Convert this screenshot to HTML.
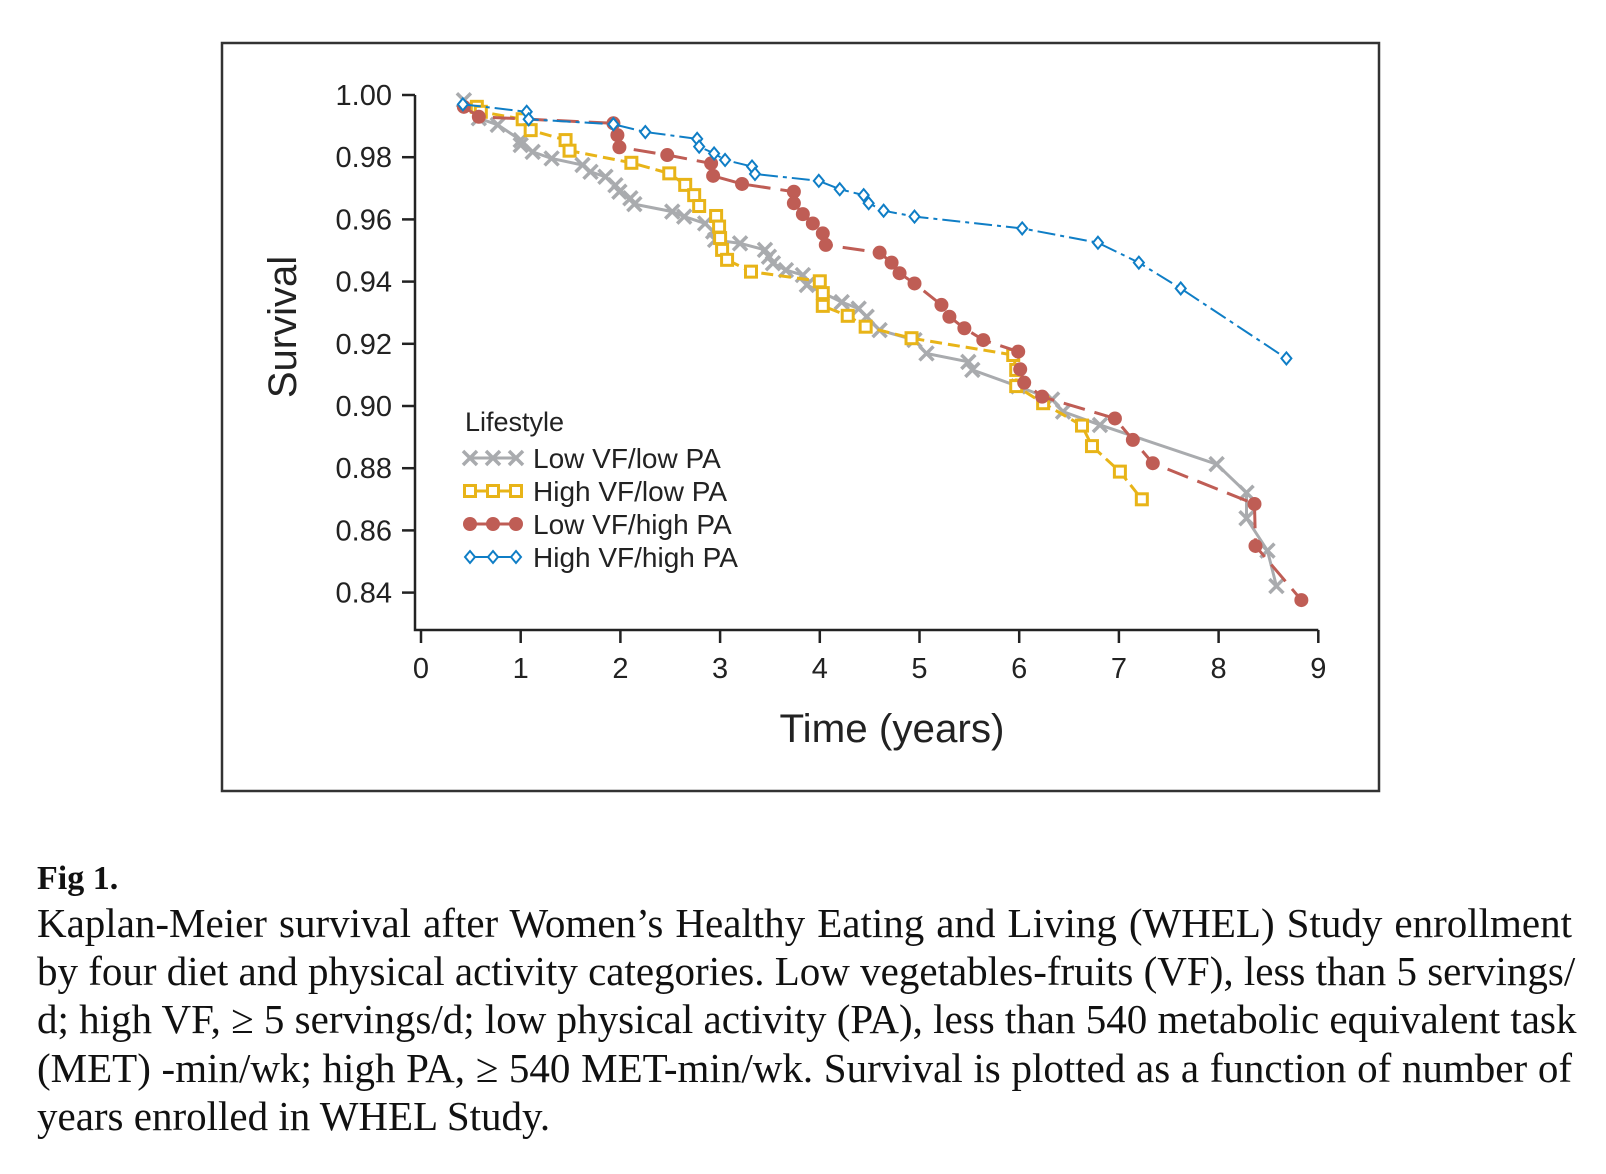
<!DOCTYPE html>
<html><head><meta charset="utf-8">
<style>
html,body{margin:0;padding:0;background:#fff;}
body{width:1606px;height:1174px;position:relative;overflow:hidden;}
#chart{position:absolute;left:0;top:0;}
.cap{position:absolute;left:37px;width:1535px;font-family:"Liberation Serif",serif;font-size:41px;color:#111;white-space:nowrap;}
.j{text-align:justify;text-align-last:justify;}
</style></head>
<body>
<svg id="chart" width="1606" height="800" xmlns="http://www.w3.org/2000/svg">
<rect x="222" y="43" width="1157" height="748" fill="none" stroke="#333" stroke-width="2.5"/>
<g id="axes"></g>
<g id="series"></g>
<g id="legend"></g>
</svg>
<div class="cap" style="top:860px;font-weight:bold;font-size:34px;">Fig 1.</div>
<div class="cap j" style="top:899px;">Kaplan-Meier survival after Women’s Healthy Eating and Living (WHEL) Study enrollment</div>
<div class="cap j" style="top:947px;">by four diet and physical activity categories. Low vegetables-fruits (VF), less than 5 servings/</div>
<div class="cap j" style="top:995px;">d; high VF, ≥ 5 servings/d; low physical activity (PA), less than 540 metabolic equivalent task</div>
<div class="cap j" style="top:1044px;">(MET) -min/wk; high PA, ≥ 540 MET-min/wk. Survival is plotted as a function of number of</div>
<div class="cap" style="top:1092px;">years enrolled in WHEL Study.</div>
<script>
const xTicks=[0,1,2,3,4,5,6,7,8,9];
const yTicks=[1.00,0.98,0.96,0.94,0.92,0.90,0.88,0.86,0.84];
const seriesNames=["Low VF/low PA","High VF/low PA","Low VF/high PA","High VF/high PA"];
const grayT=[0.43,0.58,0.77,1.0,1.0,1.12,1.31,1.62,1.7,1.85,1.95,1.99,2.1,2.14,2.52,2.64,2.85,2.93,2.95,3.2,3.45,3.49,3.53,3.66,3.83,3.87,4.22,4.39,4.47,4.6,4.95,5.07,5.49,5.53,5.99,6.33,6.44,6.81,7.98,8.28,8.28,8.49,8.58];
const grayV=[0.9983,0.9925,0.9904,0.9855,0.9839,0.9817,0.9796,0.9775,0.9753,0.9737,0.971,0.9689,0.9668,0.9649,0.9625,0.9609,0.9587,0.9561,0.9534,0.9523,0.9502,0.948,0.9459,0.9437,0.9421,0.9389,0.9334,0.9313,0.9287,0.9244,0.9212,0.9169,0.9142,0.9116,0.9063,0.9021,0.8982,0.8939,0.8813,0.8721,0.8639,0.8535,0.8421];
const yellowT=[0.56,0.6,1.02,1.1,1.45,1.49,2.11,2.49,2.65,2.74,2.79,2.96,2.99,3.0,3.02,3.07,3.31,4.0,4.03,4.03,4.28,4.46,4.92,5.94,5.97,5.97,6.24,6.63,6.73,7.01,7.23];
const yellowV=[0.9962,0.9946,0.9922,0.9887,0.9855,0.9821,0.9782,0.9748,0.9711,0.9678,0.9643,0.9611,0.9577,0.954,0.9502,0.947,0.9432,0.9401,0.9363,0.9322,0.929,0.9255,0.9218,0.9164,0.9116,0.9064,0.9009,0.8937,0.8871,0.8789,0.87];
const redT=[0.43,0.58,1.93,1.97,1.99,2.47,2.91,2.93,3.22,3.74,3.74,3.83,3.93,4.03,4.06,4.6,4.72,4.8,4.95,5.22,5.3,5.45,5.64,5.99,6.01,6.05,6.23,6.96,7.14,7.34,8.36,8.37,8.83];
const redV=[0.9962,0.993,0.9909,0.9871,0.9832,0.9807,0.978,0.974,0.9714,0.9689,0.9652,0.9617,0.9587,0.9555,0.9518,0.9493,0.9461,0.9427,0.9394,0.9325,0.9287,0.925,0.9212,0.9175,0.9118,0.9075,0.903,0.896,0.8891,0.8816,0.8685,0.855,0.8376];
const blueT=[0.42,1.06,1.08,1.93,2.25,2.77,2.79,2.94,3.05,3.32,3.35,3.99,4.2,4.44,4.49,4.64,4.95,6.03,6.79,7.2,7.62,8.68];
const blueV=[0.997,0.9946,0.9922,0.9906,0.9881,0.9859,0.9834,0.9812,0.9791,0.977,0.9746,0.9724,0.9697,0.9678,0.9652,0.9628,0.9609,0.9571,0.9525,0.9461,0.9378,0.9153];

const NS="http://www.w3.org/2000/svg";
const X0=421, XS=99.7, Y0=95, YS=3110;
function xs(t){return X0+XS*t;}
function ys(v){return Y0+(1-v)*YS;}
function mk(tag,attrs,parent){const e=document.createElementNS(NS,tag);for(const k in attrs)e.setAttribute(k,attrs[k]);parent.appendChild(e);return e;}
const axes=document.getElementById('axes');
const FONT='"Liberation Sans", Arial, sans-serif';
let a=mk('path',{d:`M415,${ys(1)} V630 H${xs(9)}`,fill:'none',stroke:'#222','stroke-width':2.5},axes);


yTicks.forEach(v=>{
  const y=ys(v);
  let l=mk('line',{x1:402,x2:415,y1:y,y2:y,stroke:'#222','stroke-width':2.5},axes);
  
  
  let t=mk('text',{x:392,y:y+10,'text-anchor':'end','font-family':FONT,'font-size':29,fill:'#222'},axes);
  t.textContent=v.toFixed(2);
  
  
});
xTicks.forEach(v=>{
  const x=xs(v);
  let l=mk('line',{x1:x,x2:x,y1:630,y2:643,stroke:'#222','stroke-width':2.5},axes);
  
  
  let t=mk('text',{x:x,y:678,'text-anchor':'middle','font-family':FONT,'font-size':29,fill:'#222'},axes);
  t.textContent=String(v);
  
  
});
let xt=mk('text',{x:892,y:742,'text-anchor':'middle','font-family':FONT,'font-size':40,fill:'#222','textLength':225,'lengthAdjust':'spacingAndGlyphs'},axes);
xt.textContent='Time (years)';


let yt=mk('text',{x:0,y:0,'text-anchor':'middle','font-family':FONT,'font-size':40,fill:'#222',transform:'translate(296,327) rotate(-90)'},axes);
yt.textContent='Survival';



const styles=[
 {c:'#a9abae',dash:'',w:3,m:'x'},
 {c:'#e8b418',dash:'12,6',w:3,m:'sq'},
 {c:'#bf5d55',dash:'22,10',w:3,m:'dot'},
 {c:'#0f7ec6',dash:'18,5,4,5',w:2,m:'dia'}
];
function marker(g,type,x,y,c){
  let e;
  if(type==='x'){e=mk('path',{d:`M${x-7},${y-7}L${x+7},${y+7}M${x-7},${y+7}L${x+7},${y-7}`,stroke:c,'stroke-width':3.5,fill:'none'},g);}
  else if(type==='sq'){e=mk('rect',{x:x-5.5,y:y-5.5,width:11,height:11,fill:'#fff',stroke:c,'stroke-width':3},g);}
  else if(type==='dot'){e=mk('circle',{cx:x,cy:y,r:7,fill:c},g);}
  else {e=mk('path',{d:`M${x},${y-6}L${x+5},${y}L${x},${y+6}L${x-5},${y}Z`,fill:'#fff',stroke:c,'stroke-width':2},g);}
  return e;
}
const data=[[grayT,grayV],[yellowT,yellowV],[redT,redV],[blueT,blueV]];
const sg=document.getElementById('series');
const keys=['low-vf-low-pa','high-vf-low-pa','low-vf-high-pa','high-vf-high-pa'];
data.forEach((d,i)=>{
  const s=styles[i];
  const g=mk('g',{},sg);
  
  
  const pts=d[0].map((t,j)=>xs(t)+','+ys(d[1][j])).join(' ');
  const pl=mk('polyline',{points:pts,fill:'none',stroke:s.c,'stroke-width':s.w,'stroke-dasharray':s.dash},g);
  
  
  d[0].forEach((t,j)=>{
    const m=marker(g,s.m,xs(t),ys(d[1][j]),s.c);
    
    
  });
});
const lg=document.getElementById('legend');


let lt=mk('text',{x:465,y:431,'font-family':FONT,'font-size':27,fill:'#222'},lg);
lt.textContent='Lifestyle';


seriesNames.forEach((n,i)=>{
  const y=458+33*i, s=styles[i];
  const g=mk('g',{},lg);
  
  
  mk('line',{x1:468,x2:518,y1:y,y2:y,stroke:s.c,'stroke-width':s.w},g);
  [470,493,516].forEach(x=>marker(g,s.m,x,y,s.c));
  const t=mk('text',{x:533,y:y+10,'font-family':FONT,'font-size':28,fill:'#222'},g);
  t.textContent=n;
});
</script>
</body></html>
